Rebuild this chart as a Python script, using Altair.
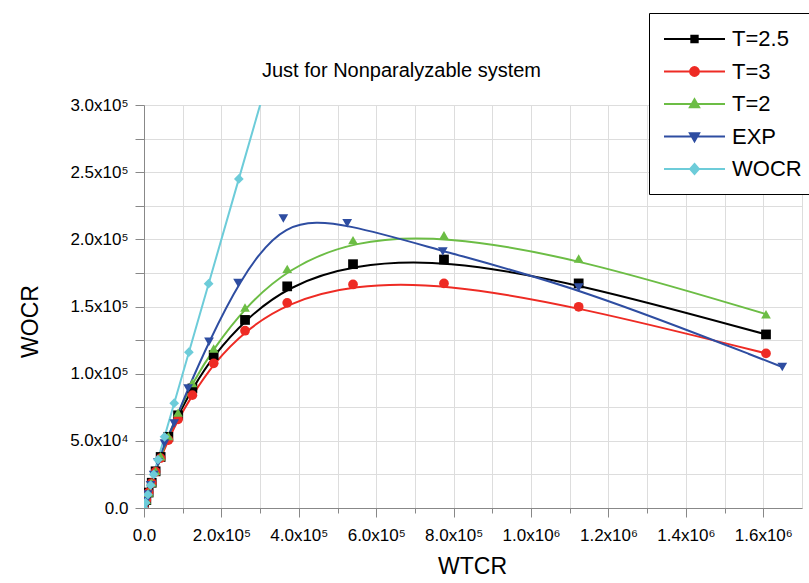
import altair as alt
import pandas as pd

series_names = ["T=2.5", "T=3", "T=2", "EXP", "WOCR"]
colors = ["#000000", "#EE2B24", "#6CBD45", "#2E4DA1", "#6DCCD9"]
shapes = ["square", "circle", "triangle-up", "triangle-down", "diamond"]
# legend glyphs: a line with the marker in the middle (units of half the symbol width)
legend_paths = [
    "M-1,0L4.545,0M1.483,-0.29L2.063,-0.29L2.063,0.29L1.483,0.29Z",
    "M-1,0L4.545,0M1.373,0A0.4,0.4,0,1,0,2.173,0A0.4,0.4,0,1,0,1.373,0Z",
    "M-1,0L4.545,0M1.773,-0.44L2.193,0.3L1.353,0.3Z",
    "M-1,0L4.545,0M1.773,0.44L2.193,-0.3L1.353,-0.3Z",
    "M-1,0L4.545,0M1.773,-0.46L2.173,0L1.773,0.46L1.373,0Z",
]

x_t = [0, 6000, 12000, 20000, 30000, 43000, 63000, 88000, 125000, 180000,
       261000, 370000, 540000, 775000, 1123000, 1607000]
y_t25 = [0, 5900, 11500, 18800, 27300, 38000, 53000, 69000, 89000, 113800,
         140000, 165000, 181500, 185000, 167200, 129200]
y_t3 = [0, 5870, 11500, 18600, 27000, 37100, 50600, 66000, 84000, 107700,
        132000, 152700, 166400, 167200, 149800, 115100]
y_t2 = [0, 5900, 11600, 18900, 27600, 38500, 53500, 71000, 93000, 118800,
        149300, 178000, 199400, 203000, 185800, 144300]
x_exp = [0, 5000, 10000, 17000, 25000, 36000, 53000, 78000, 114000, 168000,
         243000, 360000, 525000, 772000, 1123000, 1649000]
y_exp = [0, 5000, 10000, 17000, 24500, 34000, 48000, 63000, 89000, 123700,
         167600, 215500, 212000, 191000, 164200, 105000]
x_wocr = [0, 4000, 10000, 17000, 25000, 36000, 53000, 78000, 116000, 167000,
          245000, 360000]
y_wocr = [0, 4000, 10000, 17000, 25000, 36000, 53000, 78000, 116000, 167000,
          245000, 360000]

rows = []
for name, xs, ys in [("T=2.5", x_t, y_t25), ("T=3", x_t, y_t3), ("T=2", x_t, y_t2),
                     ("EXP", x_exp, y_exp), ("WOCR", x_wocr, y_wocr)]:
    for i, (a, b) in enumerate(zip(xs, ys)):
        rows.append({"series": name, "WTCR": a, "WOCR": b, "i": i})
df = pd.DataFrame(rows)

x_ticks = list(range(0, 1600001, 100000))
y_ticks = list(range(0, 300001, 25000))

FONT = "Liberation Sans"

x_enc = alt.X("WTCR:Q", scale=alt.Scale(domain=[0, 1700000], nice=False, zero=False),
              axis=alt.Axis(values=x_ticks, title="WTCR",
                            labelExpr="datum.value == 0 ? '0.0' : (datum.value % 200000 != 0 ? '' : (datum.value >= 1000000 ? format(datum.value / 1000000, '.1f') + 'x10⁶' : format(datum.value / 100000, '.1f') + 'x10⁵'))",
                            tickSize={"condition": {"test": "datum.value % 200000 != 0", "value": 5}, "value": 9},
                            labelPadding=10, labelFontSize=17, labelFlush=False,
                            titleFontSize=23, titleFontWeight="normal", titleX=328, titleY=58,
                            titleBaseline="middle", titleAlign="center"))
y_enc = alt.Y("WOCR:Q", scale=alt.Scale(domain=[0, 300000], nice=False, zero=False),
              axis=alt.Axis(values=y_ticks, title="WOCR",
                            labelExpr="datum.value == 0 ? '0.0' : (datum.value % 50000 != 0 ? '' : (datum.value >= 100000 ? format(datum.value / 100000, '.1f') + 'x10⁵' : format(datum.value / 10000, '.1f') + 'x10⁴'))",
                            tickSize=9, labelPadding=7, labelFontSize=17, labelFlush=False,
                            titleFontSize=23, titleFontWeight="normal", titleX=-114, titleY=216,
                            titleAngle=-90, titleBaseline="middle", titleAlign="center"))

color_scale = alt.Scale(domain=series_names, range=colors)

curves = alt.Chart(df).transform_filter("datum.series != 'WOCR'").mark_line(
    interpolate="basis", strokeWidth=2, clip=True
).encode(x=x_enc, y=y_enc, color=alt.Color("series:N", scale=color_scale, legend=None))

wocr_line = alt.Chart(df).transform_filter("datum.series == 'WOCR'").mark_line(
    strokeWidth=2, clip=True
).encode(x=x_enc, y=y_enc, color=alt.Color("series:N", scale=color_scale, legend=None))

point_layers = []
for name, shp in zip(series_names, shapes):
    point_layers.append(
        alt.Chart(df).transform_filter(alt.datum.series == name).mark_point(
            filled=True, size=95, opacity=1, clip=True, shape=shp
        ).encode(x=x_enc, y=y_enc, color=alt.Color("series:N", scale=color_scale, legend=None))
    )

leg = alt.Legend(title=None, orient="none", legendX=505, legendY=-92, direction="vertical",
                 labelFont=FONT, labelFontSize=22, labelColor="black", labelOffset=45,
                 symbolSize=484, symbolStrokeWidth=2, symbolOpacity=1,
                 strokeColor="black", fillColor="white", padding=14, rowPadding=9.5,
                 labelLimit=0)

legend_layer = alt.Chart(df).transform_filter("false").mark_point(filled=True, strokeWidth=2).encode(
    x=x_enc, y=y_enc,
    fill=alt.Fill("series:N", scale=alt.Scale(domain=series_names, range=colors), legend=leg),
    stroke=alt.Stroke("series:N", scale=alt.Scale(domain=series_names, range=colors), legend=leg),
    shape=alt.Shape("series:N", scale=alt.Scale(domain=series_names, range=legend_paths), legend=leg),
)

chart = alt.layer(curves, wocr_line, *point_layers, legend_layer).resolve_scale(
    shape="independent", fill="independent", stroke="independent"
).properties(
    width=658, height=403,
    autosize=alt.AutoSizeParams(type="none"),
    padding={"left": 144, "top": 105, "right": 7, "bottom": 75},
    title=alt.TitleParams("Just for Nonparalyzable system", font=FONT, fontSize=20,
                          fontWeight="normal", color="black", anchor="start", frame="group",
                          dx=118, dy=104, baseline="alphabetic", offset=20),
).configure_view(stroke=None).configure_axis(
    grid=False, domainColor="black", domainWidth=1.5, tickColor="black", tickWidth=1.5,
    labelColor="black", titleColor="black", labelFont=FONT, titleFont=FONT,
    titleFontWeight="normal",
).configure(background="white")

chart.save("out.html", embed_options={"renderer": "svg", "actions": False})
